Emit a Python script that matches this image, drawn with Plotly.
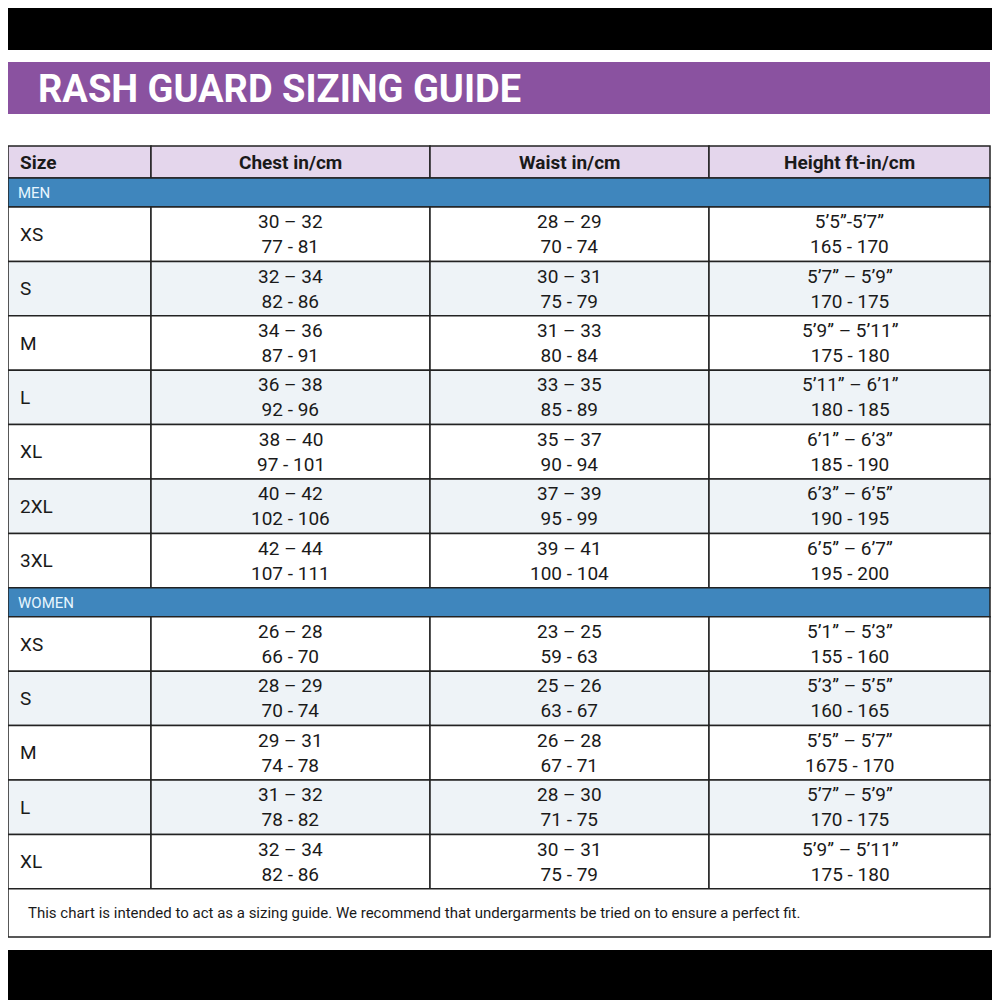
import plotly.graph_objects as go

TITLE = "RASH GUARD SIZING GUIDE"
HEADERS = ["Size", "Chest in/cm", "Waist in/cm", "Height ft-in/cm"]
FOOTNOTE = "This chart is intended to act as a sizing guide. We recommend that undergarments be tried on to ensure a perfect fit."

men_sizes = ["XS", "S", "M", "L", "XL", "2XL", "3XL"]
men_chest = ["30 – 32<br>77 - 81", "32 – 34<br>82 - 86", "34 – 36<br>87 - 91", "36 – 38<br>92 - 96",
             "38 – 40<br>97 - 101", "40 – 42<br>102 - 106", "42 – 44<br>107 - 111"]
men_waist = ["28 – 29<br>70 - 74", "30 – 31<br>75 - 79", "31 – 33<br>80 - 84", "33 – 35<br>85 - 89",
             "35 – 37<br>90 - 94", "37 – 39<br>95 - 99", "39 – 41<br>100 - 104"]
men_height = ["5’5”-5’7”<br>165 - 170", "5’7” – 5’9”<br>170 - 175", "5’9” – 5’11”<br>175 - 180",
              "5’11” – 6’1”<br>180 - 185", "6’1” – 6’3”<br>185 - 190", "6’3” – 6’5”<br>190 - 195",
              "6’5” – 6’7”<br>195 - 200"]

women_sizes = ["XS", "S", "M", "L", "XL"]
women_chest = ["26 – 28<br>66 - 70", "28 – 29<br>70 - 74", "29 – 31<br>74 - 78", "31 – 32<br>78 - 82",
               "32 – 34<br>82 - 86"]
women_waist = ["23 – 25<br>59 - 63", "25 – 26<br>63 - 67", "26 – 28<br>67 - 71", "28 – 30<br>71 - 75",
               "30 – 31<br>75 - 79"]
women_height = ["5’1” – 5’3”<br>155 - 160", "5’3” – 5’5”<br>160 - 165", "5’5” – 5’7”<br>1675 - 170",
                "5’7” – 5’9”<br>170 - 175", "5’9” – 5’11”<br>175 - 180"]

# geometry (pixel space, y downward)
COLS = [8, 151, 430, 709, 990]
ROW_H = 54.4
PURPLE, LAVENDER, BLUE, ALT = "#8a52a0", "#e4d6ec", "#3f86bd", "#eef3f7"
FONT = "Roboto"

shapes, annos = [], []

def rect(x0, y0, x1, y1, fill, line=None):
    shapes.append(dict(type="rect", x0=x0, y0=y0, x1=x1, y1=y1, fillcolor=fill,
                       line=dict(color=line or fill, width=1.5 if line else 0), layer="below"))

def text(x, y, s, size=18, color="#1a1a1a", anchor="center", bold=False):
    annos.append(dict(x=x, y=y, text=f"<b>{s}</b>" if bold else s, showarrow=False, xanchor=anchor,
                      yanchor="middle", font=dict(family=FONT, size=size, color=color)))

# black bars and title
rect(0, 0, 1000, 50, "black")
rect(0, 950, 1000, 1000, "black")
rect(8, 62, 990, 114, PURPLE)
text(36, 89, TITLE, size=38, color="white", anchor="left", bold=True)

# header
y = 146
for i, h in enumerate(HEADERS):
    rect(COLS[i], y, COLS[i + 1], y + 32, LAVENDER, "#222")
    text(18 if i == 0 else (COLS[i] + COLS[i + 1]) / 2, y + 16, h, size=19,
         anchor="left" if i == 0 else "center", bold=True)
y += 32

def section(label, sizes, chest, waist, height, y):
    rect(8, y, 990, y + 29, BLUE, "#222")
    text(16, y + 15, label, size=15, color="#e8f6ff", anchor="left")
    y += 29
    for r, vals in enumerate(zip(sizes, chest, waist, height)):
        for i, v in enumerate(vals):
            fill = ALT if r % 2 == 1 else "white"
            rect(COLS[i], y, COLS[i + 1], y + ROW_H, fill, "#222")
            text(18 if i == 0 else (COLS[i] + COLS[i + 1]) / 2, y + ROW_H / 2, v, size=19,
                 anchor="left" if i == 0 else "center")
        y += ROW_H
    return y

y = section("MEN", men_sizes, men_chest, men_waist, men_height, y)
y = section("WOMEN", women_sizes, women_chest, women_waist, women_height, y)
rect(8, y, 990, 937, "white", "#222")
text(26, (y + 937) / 2, FOOTNOTE, size=15, anchor="left")

# page has an 8px body margin, so the plot starts at page pixel 8
fig = go.Figure()
fig.update_layout(width=992, height=992, margin=dict(l=0, r=0, t=0, b=0),
                  paper_bgcolor="white", plot_bgcolor="white", shapes=shapes, annotations=annos,
                  xaxis=dict(range=[8, 1000], visible=False, fixedrange=True),
                  yaxis=dict(range=[1000, 8], visible=False, fixedrange=True), showlegend=False)
fig.write_html("out.html")
